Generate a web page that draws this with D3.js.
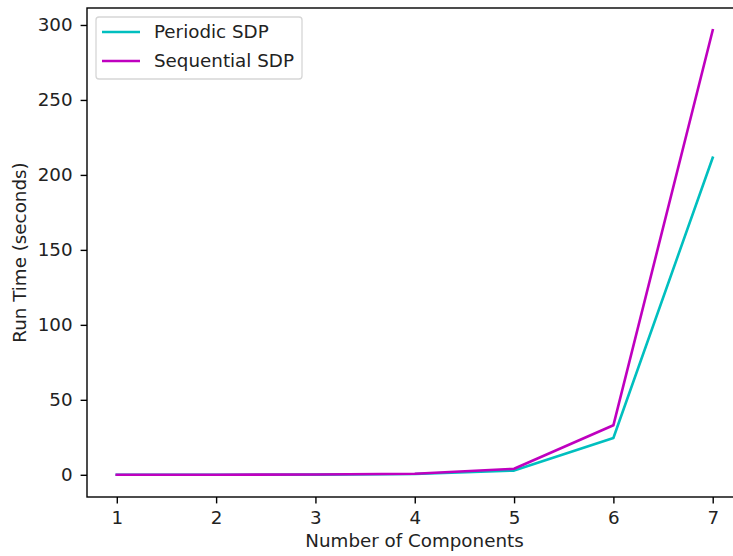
<!DOCTYPE html>
<html>
<head>
<meta charset="utf-8">
<script src="https://cdn.jsdelivr.net/npm/d3@7"></script>
<style>
  html, body { margin: 0; padding: 0; background: #fff; }
  svg { display: block; font-family: "DejaVu Sans", sans-serif; }
</style>
</head>
<body>
<svg id="chart" width="733" height="556"></svg>
<script>
// Run time vs. number of components for the two SDP formulations
const components = [1, 2, 3, 4, 5, 6, 7];
const periodicSDP = [0.01, 0.03, 0.1, 0.5, 2.8, 24.5, 211.5];
const sequentialSDP = [0.01, 0.04, 0.15, 0.7, 4.0, 33.0, 296.5];
const xTicks = [1, 2, 3, 4, 5, 6, 7];
const yTicks = [0, 50, 100, 150, 200, 250, 300];

const seriesList = [
  { name: "Periodic SDP", values: periodicSDP, color: "#00bfbf" },
  { name: "Sequential SDP", values: sequentialSDP, color: "#bf00bf" }
];

const FONT = "18.3px";
const svg = d3.select("#chart");
const plotLeft = 87, plotRight = 742.5, plotTop = 8, plotBottom = 497;

// Matplotlib-style 5% margins around the data extent
const xMin = d3.min(components), xMax = d3.max(components);
const xPad = (xMax - xMin) * 0.05;
const allY = periodicSDP.concat(sequentialSDP);
const yMin = d3.min(allY), yMax = d3.max(allY);
const yPad = (yMax - yMin) * 0.05;

const x = d3.scaleLinear().domain([xMin - xPad, xMax + xPad]).range([plotLeft, plotRight]);
const y = d3.scaleLinear().domain([yMin - yPad, yMax + yPad]).range([plotBottom, plotTop]);

// Series lines
const line = d3.line().x((d, i) => x(components[i])).y(d => y(d));
seriesList.forEach(s => {
  svg.append("path")
    .datum(s.values)
    .attr("d", line)
    .attr("fill", "none")
    .attr("stroke", s.color)
    .attr("stroke-width", 2.6)
    .attr("stroke-linejoin", "round")
    .attr("stroke-linecap", "square");
});

// Axes
const xAxis = d3.axisBottom(x).tickValues(xTicks).tickFormat(d3.format("d"))
  .tickSizeInner(6.4).tickSizeOuter(0).tickPadding(8);
const yAxis = d3.axisLeft(y).tickValues(yTicks).tickFormat(d3.format("d"))
  .tickSizeInner(6.4).tickSizeOuter(0).tickPadding(8);

const gx = svg.append("g").attr("transform", `translate(0,${plotBottom})`).call(xAxis);
const gy = svg.append("g").attr("transform", `translate(${plotLeft},0)`).call(yAxis);
[gx, gy].forEach(g => {
  g.select(".domain").remove();
  g.selectAll(".tick line").attr("stroke", "#000").attr("stroke-width", 1.4);
  g.selectAll(".tick text").attr("fill", "#222").attr("font-size", FONT)
    .attr("font-family", "DejaVu Sans, sans-serif");
});

// Frame
svg.append("rect")
  .attr("x", plotLeft).attr("y", plotTop)
  .attr("width", plotRight - plotLeft).attr("height", plotBottom - plotTop)
  .attr("fill", "none").attr("stroke", "#000").attr("stroke-width", 1.4);

// Axis titles
svg.append("text")
  .attr("x", 414.5).attr("y", 546.5)
  .attr("text-anchor", "middle").attr("font-size", FONT).attr("fill", "#222")
  .text("Number of Components");
svg.append("text")
  .attr("transform", `translate(26,${(plotTop + plotBottom) / 2}) rotate(-90)`)
  .attr("text-anchor", "middle").attr("font-size", FONT).attr("fill", "#222")
  .text("Run Time (seconds)");

// Legend
const legend = svg.append("g");
legend.append("rect")
  .attr("x", 96).attr("y", 17).attr("width", 206).attr("height", 62)
  .attr("rx", 3).attr("fill", "#fff").attr("fill-opacity", 0.8)
  .attr("stroke", "#d6d6d6").attr("stroke-width", 1.3);
seriesList.forEach((s, i) => {
  const ly = 32 + i * 29;
  legend.append("line")
    .attr("x1", 102).attr("x2", 140).attr("y1", ly).attr("y2", ly)
    .attr("stroke", s.color).attr("stroke-width", 2.6);
  legend.append("text")
    .attr("x", 154).attr("y", ly).attr("dy", "0.35em")
    .attr("font-size", FONT).attr("fill", "#222")
    .text(s.name);
});
</script>
</body>
</html>
